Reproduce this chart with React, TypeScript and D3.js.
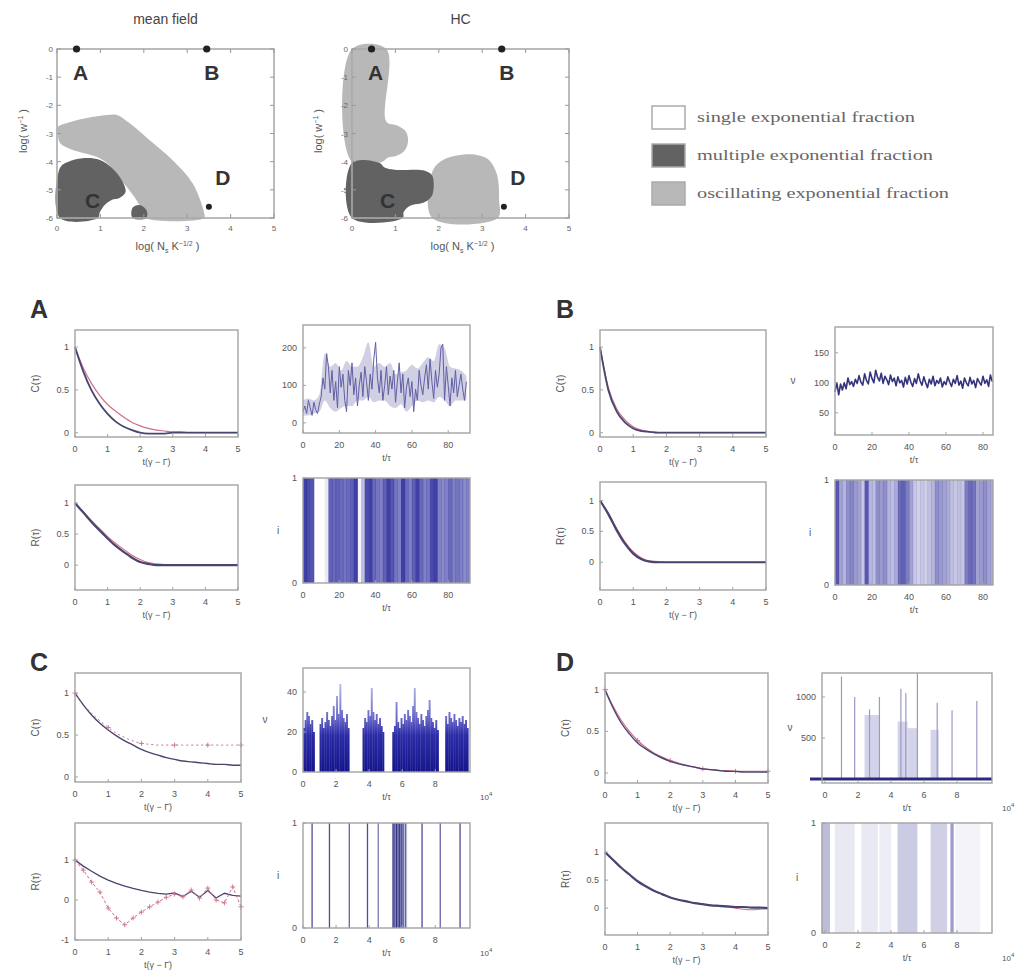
import React from 'react'
import * as d3 from 'd3'

// ---------- phase diagrams: x = log(Ns K^-1/2), y = log(w^-1) ----------
const phaseXTicks = [0, 1, 2, 3, 4, 5]
const phaseYTicks = [-6, -5, -4, -3, -2, -1, 0]

// mean field regions
const mfOscX = [0.02, 0.23, 0.69, 1.15, 1.38, 1.67, 2.13, 2.66, 3.12, 3.39, 3.39, 2.06, 2.06, 1.9, 1.83, 1.61, 1.33, 1.15, 0.92, 0.6, 0.37, 0.07, 0.02]
const mfOscY = [-2.77, -2.63, -2.45, -2.34, -2.34, -2.63, -3.23, -3.94, -4.76, -5.82, -6, -6, -5.82, -5.54, -5.36, -4.9, -4.4, -4.05, -3.83, -3.69, -3.59, -3.34, -2.98]
const mfMultX = [0.07, 0.07, 0.25, 0.64, 0.99, 1.26, 1.49, 1.58, 1.44, 1.26, 1.1, 0.99, 0.94]
const mfMultY = [-6, -4.22, -4.01, -3.87, -3.94, -4.22, -4.65, -5.08, -5.29, -5.36, -5.54, -5.79, -6]
const mfMult2X = [1.74, 1.74, 1.9, 2.06, 2.06]
const mfMult2Y = [-6, -5.64, -5.54, -5.72, -6]

// HC regions
const hcOscX = [0, 0.79, 0.79, 1.03, 1.24, 1.29, 1.21, 1.03, 0.82, 0.7, 0]
const hcOscY = [0, 0, -2.57, -2.71, -2.93, -3.29, -3.61, -3.79, -3.86, -4.0, -4.0]
const hcMultX = [0, 0.63, 0.75, 0.98, 1.68, 1.85, 1.85, 1.68, 1.33, 1.19, 1.17, 0]
const hcMultY = [-4.04, -4.04, -4.21, -4.29, -4.32, -4.5, -5.18, -5.43, -5.57, -5.79, -6, -6]
const hcOsc2X = [1.85, 1.85, 2.03, 2.38, 2.85, 3.15, 3.34, 3.39, 3.36]
const hcOsc2Y = [-6, -4.36, -4.0, -3.79, -3.75, -3.93, -4.46, -5.36, -6]

const stateNames = ['A', 'B', 'C', 'D']
const stateX = [0.45, 3.45, 0.45, 3.5]
const stateY = [0, 0, -5.5, -5.6]

const legendLabels = ['single exponential fraction', 'multiple exponential fraction', 'oscillating exponential fraction']

// ---------- autocorrelation panels ----------
const lagT = [0, 0.25, 0.5, 0.75, 1, 1.25, 1.5, 1.75, 2, 2.25, 2.5, 2.75, 3, 3.25, 3.5, 3.75, 4, 4.25, 4.5, 4.75, 5]
const lagTicks = [0, 1, 2, 3, 4, 5]

const aCsim = [1, 0.72, 0.5, 0.34, 0.22, 0.13, 0.07, 0.03, 0.0, -0.01, -0.01, -0.01, 0, 0, 0, 0, 0, 0, 0, 0, 0]
const aCfit = [1, 0.76, 0.58, 0.44, 0.33, 0.25, 0.18, 0.12, 0.08, 0.05, 0.03, 0.02, 0.01, 0.01, 0, 0, 0, 0, 0, 0, 0]
const aRsim = [1, 0.85, 0.7, 0.56, 0.43, 0.31, 0.21, 0.12, 0.05, 0.02, 0, 0, 0, 0, 0, 0, 0, 0, 0, 0, 0]
const aRfit = [1, 0.86, 0.72, 0.59, 0.46, 0.35, 0.25, 0.16, 0.09, 0.04, 0.02, 0.01, 0, 0, 0, 0, 0, 0, 0, 0, 0]

const bCsim = [1, 0.5, 0.25, 0.12, 0.05, 0.02, 0.01, 0, 0, 0, 0, 0, 0, 0, 0, 0, 0, 0, 0, 0, 0]
const bCfit = [1, 0.53, 0.28, 0.15, 0.07, 0.03, 0.01, 0, 0, 0, 0, 0, 0, 0, 0, 0, 0, 0, 0, 0, 0]
const bRsim = [1, 0.78, 0.52, 0.3, 0.14, 0.05, 0.01, 0, 0, 0, 0, 0, 0, 0, 0, 0, 0, 0, 0, 0, 0]
const bRfit = [1, 0.8, 0.55, 0.33, 0.17, 0.07, 0.02, 0.01, 0, 0, 0, 0, 0, 0, 0, 0, 0, 0, 0, 0, 0]

const cCsim = [1, 0.86, 0.74, 0.64, 0.56, 0.49, 0.43, 0.38, 0.33, 0.29, 0.26, 0.23, 0.21, 0.19, 0.18, 0.17, 0.16, 0.15, 0.15, 0.14, 0.14]
const cCfit = [1, 0.87, 0.76, 0.67, 0.59, 0.52, 0.47, 0.43, 0.4, 0.39, 0.38, 0.38, 0.38, 0.38, 0.38, 0.38, 0.38, 0.38, 0.38, 0.38, 0.38]
const cRsim = [1, 0.85, 0.72, 0.6, 0.5, 0.42, 0.35, 0.29, 0.24, 0.2, 0.17, 0.15, 0.18, 0.09, 0.22, 0.07, 0.24, 0.05, 0.17, 0.12, 0.1]
const cRosc = [1.0, 0.75, 0.45, 0.2, -0.2, -0.45, -0.62, -0.45, -0.3, -0.17, -0.05, 0.07, 0.15, 0.08, 0.25, 0.05, 0.3, 0.0, -0.07, 0.33, -0.17]

const dCsim = [1, 0.78, 0.6, 0.47, 0.36, 0.29, 0.23, 0.18, 0.14, 0.11, 0.09, 0.07, 0.05, 0.04, 0.03, 0.02, 0.02, 0.01, 0.01, 0.01, 0.01]
const dCfit = [1, 0.8, 0.63, 0.5, 0.39, 0.31, 0.24, 0.19, 0.15, 0.12, 0.09, 0.07, 0.05, 0.04, 0.03, 0.03, 0.02, 0.02, 0.02, 0.02, 0.02]
const dRsim = [1, 0.86, 0.72, 0.6, 0.48, 0.39, 0.31, 0.25, 0.19, 0.15, 0.12, 0.09, 0.07, 0.05, 0.04, 0.03, 0.02, 0.02, 0.01, 0.01, 0.0]
const dRfit = [1, 0.86, 0.72, 0.6, 0.48, 0.39, 0.31, 0.25, 0.19, 0.15, 0.12, 0.09, 0.07, 0.05, 0.03, 0.02, 0.0, -0.02, -0.03, -0.02, -0.01]

// ---------- rate time series ----------
// A: one value per t/tau = 0..90
const aRate = [
  30, 45, 25, 60, 40, 20, 55, 35, 25, 50,
  70, 120, 90, 185, 150, 80, 140, 60, 110, 40,
  150, 95, 130, 60, 30, 140, 100, 160, 75, 120,
  45, 100, 135, 70, 150, 110, 60, 130, 90, 170,
  215, 120, 80, 140, 60, 100, 150, 75, 125, 90,
  140, 55, 110, 160, 80, 130, 40, 95, 120, 70,
  110, 30, 90, 60, 140, 100, 75, 120, 155, 90,
  170, 110, 65, 140, 95, 130, 200, 210, 60, 150,
  100, 45, 120, 80, 140, 70, 100, 130, 90, 60,
  110,
]
// A: fluctuation envelope every 3 t/tau (0..90)
const aRateHi = [60, 65, 60, 75, 185, 150, 160, 140, 165, 150, 150, 175, 215, 150, 160, 150, 160, 130, 135, 140, 155, 145, 160, 175, 165, 210, 200, 150, 145, 140, 125]
const aRateLo = [20, 20, 25, 30, 60, 40, 30, 40, 45, 45, 60, 60, 70, 55, 60, 60, 45, 40, 50, 30, 45, 60, 55, 60, 55, 70, 60, 45, 60, 60, 60]
// B: one value per t/tau = 0..85
const bRate = [
  85, 100, 80, 98, 88, 100, 90, 108, 97, 102,
  94, 106, 99, 112, 101, 96, 115, 104, 98, 118,
  107, 100, 121, 109, 103, 116, 99, 111, 105, 97,
  113, 102, 108, 95, 110, 100, 104, 93, 109, 98,
  112, 101, 94, 107, 99, 115, 103, 96, 110, 100,
  92, 106, 98, 111, 95, 104, 99, 108, 93, 102,
  97, 110, 101, 94, 106, 99, 112, 96, 103, 91,
  108, 100, 95, 109, 98, 104, 92, 107, 101, 96,
  111, 99, 105, 94, 113, 102,
]
// C: peak rate per bin of 0.1 (x10^4 t/tau), 0.0..10.0
const cPeak = [
  22, 26, 30, 28, 24, 26, 20, 0, 0, 0,
  24, 27, 22, 25, 30, 26, 23, 28, 33, 26,
  38, 29, 44, 31, 27, 25, 29, 22, 0, 0,
  0, 0, 0, 0, 0, 0, 22, 27, 25, 31,
  28, 42, 30, 26, 29, 24, 27, 23, 20, 0,
  0, 0, 0, 0, 20, 23, 35, 25, 22, 27,
  24, 29, 26, 31, 28, 25, 33, 42, 30, 27,
  24, 29, 26, 23, 28, 31, 36, 27, 25, 22,
  26, 21, 0, 0, 0, 0, 28, 24, 30, 27,
  25, 29, 26, 23, 27, 25, 28, 24, 26, 22,
  0,
]
// D: sparse bursts (x10^4 t/tau)
const dSpikeT = [1.0, 1.8, 2.7, 3.3, 4.6, 4.9, 5.6, 6.8, 7.7, 9.2]
const dSpikeH = [1250, 1000, 850, 1000, 1100, 1050, 1290, 930, 840, 950]
const dBandStart = [2.4, 4.4, 5.0, 6.4]
const dBandEnd = [3.3, 5.0, 5.6, 6.9]
const dBandH = [780, 700, 620, 600]

// ---------- rasters (activity per time column) ----------
const aRaster = [
  0.9, 0.85, 0.8, 0, 0, 0, 0.1, 0.75, 0.7, 0.75,
  0.7, 0.65, 0.7, 0.75, 0.9, 0.05, 0.3, 0.85, 0.9, 0.7,
  0.65, 0.6, 0.75, 0.9, 0.8, 0.65, 0.6, 0.9, 0.7, 0.6,
  0.75, 0.9, 0.7, 0.6, 0.65, 0.85, 0.9, 0.6, 0.55, 0.6,
  0.7, 0.6, 0.65, 0.6, 0.55, 0.6,
]
const bRaster = [
  0.9, 0.5, 0.4, 0.6, 0.65, 0.55, 0.5, 0.3, 0.9, 0.4,
  0.35, 0.6, 0.55, 0.6, 0.4, 0.35, 0.45, 0.8, 0.85, 0.7,
  0.5, 0.3, 0.25, 0.3, 0.25, 0.35, 0.4, 0.6, 0.55, 0.5,
  0.45, 0.35, 0.3, 0.35, 0.3, 0.7, 0.8, 0.75, 0.5, 0.55,
  0.6, 0.5, 0.45,
]
const cSpikeT = [0.55, 1.6, 2.8, 3.9, 4.55, 5.45, 5.55, 5.65, 5.75, 5.85, 5.95, 6.05, 6.2, 7.2, 8.3, 9.5]
const cSpikeW = [0.8, 0.8, 0.7, 0.8, 0.6, 0.9, 0.7, 0.9, 0.8, 0.9, 0.7, 0.8, 0.6, 0.8, 0.7, 0.8]
const dRasterStart = [-0.2, 0.6, 2.2, 3.3, 4.4, 6.4, 7.6, 7.9]
const dRasterEnd = [0.3, 1.8, 3.2, 4.0, 5.6, 7.4, 7.8, 9.4]
const dRasterLevel = [0.45, 0.15, 0.15, 0.12, 0.35, 0.32, 0.65, 0.08]

const frameCol = '#a3a3a3'
const tickCol = '#555'
const simCol = '#4a4470'
const fitCol = '#cc7088'

function Axes({ x, y, w, h, sx, sy, xTicks, yTicks, xLabel, yLabel, yLabelOff = 36, exp = false, rotY = true }: any) {
  return (
    <g>
      <rect x={x} y={y} width={w} height={h} fill="none" stroke={frameCol} strokeWidth={1.4} />
      {xTicks.map((t: number) => (
        <g key={'x' + t}>
          <line x1={sx(t)} x2={sx(t)} y1={y + h} y2={y + h - 3} stroke={frameCol} />
          <text x={sx(t)} y={y + h + 15} textAnchor="middle" fontSize={9} fill={tickCol}>{t}</text>
        </g>
      ))}
      {yTicks.map((t: number) => (
        <g key={'y' + t}>
          <line x1={x} x2={x + 3} y1={sy(t)} y2={sy(t)} stroke={frameCol} />
          <text x={x - 6} y={sy(t) + 3} textAnchor="end" fontSize={9} fill={tickCol}>{t}</text>
        </g>
      ))}
      <text x={x + w / 2} y={y + h + 28} textAnchor="middle" fontSize={9} fill={tickCol}>{xLabel}</text>
      {yLabel && (rotY ? (
        <text transform={`translate(${x - yLabelOff},${y + h / 2}) rotate(-90)`} textAnchor="middle" fontSize={10} fill={tickCol}>{yLabel}</text>
      ) : (
        <text x={x - yLabelOff} y={y + h / 2 + 3} textAnchor="middle" fontSize={10} fill={tickCol}>{yLabel}</text>
      ))}
      {exp && (
        <text x={x + w + 10} y={y + h + 28} fontSize={8} fill={tickCol}>10<tspan dy={-4} fontSize={6}>4</tspan></text>
      )}
    </g>
  )
}

function LagPanel({ x, y, w, h, yDom, yTicks, series, yLabel }: any) {
  const sx = d3.scaleLinear().domain([0, 5]).range([x, x + w])
  const sy = d3.scaleLinear().domain(yDom).range([y + h, y])
  return (
    <g>
      {series.map((s: any, k: number) => {
        const gen = d3.line<number>()
          .x((_, i) => sx(lagT[i]))
          .y(v => sy(v))
          .curve(s.jag ? d3.curveLinear : d3.curveMonotoneX)
        return (
          <g key={k}>
            <path d={gen(s.ys) || ''} fill="none" stroke={s.color} strokeWidth={s.width} strokeDasharray={s.dash} />
            {s.marks && s.ys.map((v: number, i: number) => i % s.marks === 0 ? (
              <path key={i} d={`M${sx(lagT[i]) - 2.5},${sy(v)}h5M${sx(lagT[i])},${sy(v) - 2.5}v5`} stroke={s.color} strokeWidth={0.9} />
            ) : null)}
          </g>
        )
      })}
      <Axes x={x} y={y} w={w} h={h} sx={sx} sy={sy} xTicks={lagTicks} yTicks={yTicks} xLabel="t(γ − Γ)" yLabel={yLabel} yLabelOff={36} />
    </g>
  )
}

function RateLine({ x, y, w, h, xDom, yDom, xTicks, yTicks, values, color, width, yLabel, hi, lo, envStep }: any) {
  const sx = d3.scaleLinear().domain(xDom).range([x, x + w])
  const sy = d3.scaleLinear().domain(yDom).range([y + h, y])
  const gen = d3.line<number>().x((_, i) => sx(i)).y(v => sy(v))
  const env = hi ? d3.area<number>()
    .x((_, i) => sx(i * envStep))
    .y0((_, i) => sy(lo[i]))
    .y1(v => sy(v))
    .curve(d3.curveMonotoneX)(hi) : null
  return (
    <g>
      {env && <path d={env} fill="#8a88b8" opacity={0.4} />}
      <path d={gen(values) || ''} fill="none" stroke={color} strokeWidth={width} strokeLinejoin="round" />
      <Axes x={x} y={y} w={w} h={h} sx={sx} sy={sy} xTicks={xTicks} yTicks={yTicks} xLabel="t/τ" yLabel={yLabel} yLabelOff={42} rotY={false} />
    </g>
  )
}

function RasterCols({ x, y, w, h, xDom, xTicks, values, step, color, exp = false }: any) {
  const sx = d3.scaleLinear().domain(xDom).range([x, x + w])
  const sy = d3.scaleLinear().domain([0, 1]).range([y + h, y])
  const clipId = `clip-${Math.round(x)}-${Math.round(y)}`
  return (
    <g>
      <clipPath id={clipId}><rect x={x} y={y} width={w} height={h} /></clipPath>
      <g clipPath={`url(#${clipId})`}>
        {values.map((v: number, i: number) => (
          <rect key={i} x={sx(i * step)} y={sy(1)} width={sx(step) - sx(0) + 0.4} height={sy(0) - sy(1)} fill={color} opacity={v} />
        ))}
      </g>
      <Axes x={x} y={y} w={w} h={h} sx={sx} sy={sy} xTicks={xTicks} yTicks={[0, 1]} xLabel="t/τ" yLabel="i" yLabelOff={25} rotY={false} exp={exp} />
    </g>
  )
}

function PhasePanel({ left, title, regions }: any) {
  const top = 49, w = 217, h = 169
  const sx = d3.scaleLinear().domain([0, 5]).range([left, left + w])
  const sy = d3.scaleLinear().domain([-6, 0]).range([top + h, top])
  const poly = (xs: number[], ys: number[]) =>
    (d3.line<number>().x(i => sx(xs[i])).y(i => sy(ys[i])).curve(d3.curveCatmullRomClosed.alpha(0.5))(d3.range(xs.length)) || '')
  const offs: Record<string, number[]> = { A: [4, 31], B: [5, 31], C: [16, 4], D: [14, -22] }
  return (
    <g>
      <text x={left + w / 2} y={24} textAnchor="middle" fontSize={14} fill="#444">{title}</text>
      {regions.map((r: any, k: number) => <path key={k} d={poly(r.xs, r.ys)} fill={r.fill} />)}
      <rect x={left} y={top} width={w} height={h} fill="none" stroke="#aaa" strokeWidth={1.6} />
      {phaseXTicks.map(t => (
        <g key={'x' + t}>
          <line x1={sx(t)} x2={sx(t)} y1={top + h} y2={top + h - 4} stroke="#999" />
          <line x1={sx(t)} x2={sx(t)} y1={top} y2={top + 4} stroke="#999" />
          <text x={sx(t)} y={top + h + 13} textAnchor="middle" fontSize={8} fill="#666">{t}</text>
        </g>
      ))}
      {phaseYTicks.map(t => (
        <g key={'y' + t}>
          <line x1={left} x2={left + 4} y1={sy(t)} y2={sy(t)} stroke="#999" />
          <line x1={left + w} x2={left + w - 4} y1={sy(t)} y2={sy(t)} stroke="#999" />
          <text x={left - 4} y={sy(t) + 3} textAnchor="end" fontSize={8} fill="#666">{t}</text>
        </g>
      ))}
      <text transform={`translate(${left - 30},${top + 82}) rotate(-90)`} textAnchor="middle" fontSize={11} fill="#555">
        log( w<tspan dy={-4} fontSize={7}>−1</tspan><tspan dy={4}> )</tspan>
      </text>
      <text x={left + w / 2 + 2} y={top + h + 32} textAnchor="middle" fontSize={11} fill="#555">
        log( N<tspan dy={3} fontSize={7}>s</tspan><tspan dy={-3}> K</tspan><tspan dy={-4} fontSize={7}>−1/2</tspan><tspan dy={4}> )</tspan>
      </text>
      {stateNames.map((n, i) => (
        <g key={n}>
          {n !== 'C' && <circle cx={sx(stateX[i])} cy={sy(stateY[i])} r={n === 'D' ? 3 : 3.6} fill="#222" />}
          <text x={sx(stateX[i]) + offs[n][0]} y={sy(stateY[i]) + offs[n][1]} textAnchor="middle" fontSize={21} fontWeight="bold" fill="#333">{n}</text>
        </g>
      ))}
    </g>
  )
}

export default function App() {
  const darkFill = '#626262'
  const lightFill = '#b8b8b8'

  // C time series scales
  const c3 = { x: 303, y: 668, w: 167, h: 104 }
  const c3x = d3.scaleLinear().domain([0, 10.1]).range([c3.x, c3.x + c3.w])
  const c3y = d3.scaleLinear().domain([0, 52]).range([c3.y + c3.h, c3.y])
  const c4 = { x: 303, y: 823, w: 167, h: 105 }
  const c4x = d3.scaleLinear().domain([0, 10.1]).range([c4.x, c4.x + c4.w])
  const c4y = d3.scaleLinear().domain([0, 1]).range([c4.y + c4.h, c4.y])

  const d3p = { x: 822, y: 673, w: 170, h: 110 }
  const d3x = d3.scaleLinear().domain([-0.18, 10.12]).range([d3p.x, d3p.x + d3p.w])
  const d3y = d3.scaleLinear().domain([-49, 1293]).range([d3p.y + d3p.h, d3p.y])
  const d4 = { x: 822, y: 823, w: 170, h: 110 }
  const d4x = d3.scaleLinear().domain([-0.18, 10.12]).range([d4.x, d4.x + d4.w])
  const d4y = d3.scaleLinear().domain([0, 1]).range([d4.y + d4.h, d4.y])

  const tenTicks = [0, 2, 4, 6, 8]

  return (
    <svg width={1030} height={977} style={{ position: 'absolute', left: 0, top: 0, background: '#fff' }} fontFamily="'Liberation Sans', Arial, sans-serif">
      <defs>
        <linearGradient id="cgrad" gradientUnits="userSpaceOnUse" x1={0} x2={0} y1={c3y(0)} y2={c3y(48)}>
          <stop offset="0%" stopColor="#15158a" />
          <stop offset="38%" stopColor="#2a2aa6" />
          <stop offset="55%" stopColor="#6464c8" />
          <stop offset="100%" stopColor="#d0d0f0" />
        </linearGradient>
      </defs>

      {/* ---------- phase diagrams ---------- */}
      <PhasePanel left={57} title="mean field" regions={[
        { xs: mfOscX, ys: mfOscY, fill: lightFill },
        { xs: mfMultX, ys: mfMultY, fill: darkFill },
        { xs: mfMult2X, ys: mfMult2Y, fill: darkFill },
      ]} />
      <PhasePanel left={352} title="HC" regions={[
        { xs: hcOscX, ys: hcOscY, fill: lightFill },
        { xs: hcOsc2X, ys: hcOsc2Y, fill: lightFill },
        { xs: hcMultX, ys: hcMultY, fill: darkFill },
      ]} />

      {/* legend */}
      {legendLabels.map((l, i) => (
        <g key={l}>
          <rect x={652} y={106 + i * 38} width={33} height={23} fill={['#fff', darkFill, lightFill][i]} stroke="#aaa" strokeWidth={1.5} />
          <text x={697} y={122 + i * 38} fontSize={14} fill="#666" fontFamily="'Liberation Serif', serif" textLength={[218, 236, 252][i]} lengthAdjust="spacingAndGlyphs">{l}</text>
        </g>
      ))}

      {/* ---------- group letters ---------- */}
      <text x={30} y={318} fontSize={25} fontWeight="bold" fill="#333">A</text>
      <text x={556} y={318} fontSize={25} fontWeight="bold" fill="#333">B</text>
      <text x={30} y={671} fontSize={25} fontWeight="bold" fill="#333">C</text>
      <text x={556} y={671} fontSize={25} fontWeight="bold" fill="#333">D</text>

      {/* ---------- A ---------- */}
      <LagPanel x={75} y={330} w={163} h={107} yDom={[-0.05, 1.2]} yTicks={[0, 0.5, 1]} yLabel="C(τ)" series={[
        { ys: aCfit, color: fitCol, width: 1.2 },
        { ys: aCsim, color: simCol, width: 1.8 },
      ]} />
      <LagPanel x={75} y={485} w={163} h={105} yDom={[-0.4, 1.29]} yTicks={[0, 0.5, 1]} yLabel="R(τ)" series={[
        { ys: aRfit, color: fitCol, width: 1.2 },
        { ys: aRsim, color: simCol, width: 2.2 },
      ]} />
      <RateLine x={303} y={325} w={167} h={108} xDom={[0, 92]} yDom={[-27, 261]} xTicks={[0, 20, 40, 60, 80]} yTicks={[0, 100, 200]}
        values={aRate} color="#6060a4" width={1} hi={aRateHi} lo={aRateLo} envStep={3} />
      <RasterCols x={303} y={478} w={167} h={105} xDom={[0, 92]} xTicks={[0, 20, 40, 60, 80]} values={aRaster} step={2} color="#2b2b9c" />

      {/* ---------- B ---------- */}
      <LagPanel x={600} y={330} w={166} h={107} yDom={[-0.05, 1.2]} yTicks={[0, 0.5, 1]} yLabel="C(τ)" series={[
        { ys: bCfit, color: fitCol, width: 1.2 },
        { ys: bCsim, color: simCol, width: 1.8 },
      ]} />
      <LagPanel x={600} y={482} w={166} h={108} yDom={[-0.45, 1.3]} yTicks={[0, 0.5, 1]} yLabel="R(τ)" series={[
        { ys: bRfit, color: fitCol, width: 1.2 },
        { ys: bRsim, color: simCol, width: 2.2 },
      ]} />
      <RateLine x={835} y={327} w={158} h={108} xDom={[0, 85.4]} yDom={[13, 193]} xTicks={[0, 20, 40, 60, 80]} yTicks={[50, 100, 150]}
        values={bRate} color="#34347e" width={1.6} yLabel="ν" />
      <RasterCols x={835} y={480} w={158} h={105} xDom={[0, 85.4]} xTicks={[0, 20, 40, 60, 80]} values={bRaster} step={2} color="#4545a6" />

      {/* ---------- C ---------- */}
      <LagPanel x={75} y={673} w={166} h={109} yDom={[-0.06, 1.24]} yTicks={[0, 0.5, 1]} yLabel="C(τ)" series={[
        { ys: cCsim, color: simCol, width: 1.4 },
        { ys: cCfit, color: fitCol, width: 1, dash: '2 3', marks: 4 },
      ]} />
      <LagPanel x={75} y={823} w={166} h={117} yDom={[-1, 1.93]} yTicks={[-1, 0, 1]} yLabel="R(τ)" series={[
        { ys: cRsim, color: simCol, width: 1.3, jag: true },
        { ys: cRosc, color: fitCol, width: 1, jag: true, marks: 1, dash: '3 2' },
      ]} />
      <g>
        {cPeak.map((v, i) => v > 0 ? (
          <rect key={i} x={c3x(i * 0.1)} y={c3y(v)} width={c3x(0.1) - c3x(0) + 0.3} height={c3y(0) - c3y(v)} fill="url(#cgrad)" />
        ) : null)}
        <Axes x={c3.x} y={c3.y} w={c3.w} h={c3.h} sx={c3x} sy={c3y} xTicks={tenTicks} yTicks={[0, 20, 40]} xLabel="t/τ" yLabel="ν" yLabelOff={38} rotY={false} exp />
      </g>
      <g>
        <rect x={c4x(5.4)} y={c4.y} width={c4x(6.3) - c4x(5.4)} height={c4.h} fill="#5555b0" opacity={0.3} />
        {cSpikeT.map((t, i) => (
          <line key={i} x1={c4x(t)} x2={c4x(t)} y1={c4y(0)} y2={c4y(1)} stroke="#22227a" strokeWidth={1.3} opacity={cSpikeW[i]} />
        ))}
        <Axes x={c4.x} y={c4.y} w={c4.w} h={c4.h} sx={c4x} sy={c4y} xTicks={tenTicks} yTicks={[0, 1]} xLabel="t/τ" yLabel="i" yLabelOff={25} rotY={false} exp />
      </g>

      {/* ---------- D ---------- */}
      <LagPanel x={605} y={673} w={163} h={110} yDom={[-0.12, 1.2]} yTicks={[0, 0.5, 1]} yLabel="C(τ)" series={[
        { ys: dCfit, color: fitCol, width: 1.2, marks: 4 },
        { ys: dCsim, color: simCol, width: 1.4 },
      ]} />
      <LagPanel x={605} y={823} w={163} h={112} yDom={[-0.48, 1.52]} yTicks={[0, 0.5, 1]} yLabel="R(τ)" series={[
        { ys: dRfit, color: fitCol, width: 1.1 },
        { ys: dRsim, color: simCol, width: 2.2 },
      ]} />
      <g>
        {dBandStart.map((s, i) => (
          <rect key={i} x={d3x(s)} y={d3y(dBandH[i])} width={d3x(dBandEnd[i]) - d3x(s)} height={d3y(0) - d3y(dBandH[i])} fill="#c0c0e0" opacity={0.7} />
        ))}
        {dSpikeT.map((t, i) => (
          <line key={i} x1={d3x(t)} x2={d3x(t)} y1={d3y(0)} y2={d3y(dSpikeH[i])} stroke="#9a9ac6" strokeWidth={1.2} />
        ))}
        <line x1={d3p.x - 12} x2={d3p.x + d3p.w} y1={d3y(0)} y2={d3y(0)} stroke="#2a2a80" strokeWidth={3} />
        <Axes x={d3p.x} y={d3p.y} w={d3p.w} h={d3p.h} sx={d3x} sy={d3y} xTicks={tenTicks} yTicks={[500, 1000]} xLabel="t/τ" yLabel="ν" yLabelOff={32} rotY={false} exp />
      </g>
      <g>
        {dRasterStart.map((s, i) => (
          <rect key={i} x={d4x(s)} y={d4y(1)} width={d4x(dRasterEnd[i]) - d4x(s)} height={d4y(0) - d4y(1)} fill="#6a6ab0" opacity={dRasterLevel[i]} />
        ))}
        <Axes x={d4.x} y={d4.y} w={d4.w} h={d4.h} sx={d4x} sy={d4y} xTicks={tenTicks} yTicks={[0, 1]} xLabel="t/τ" yLabel="i" yLabelOff={25} rotY={false} exp />
      </g>
    </svg>
  )
}
